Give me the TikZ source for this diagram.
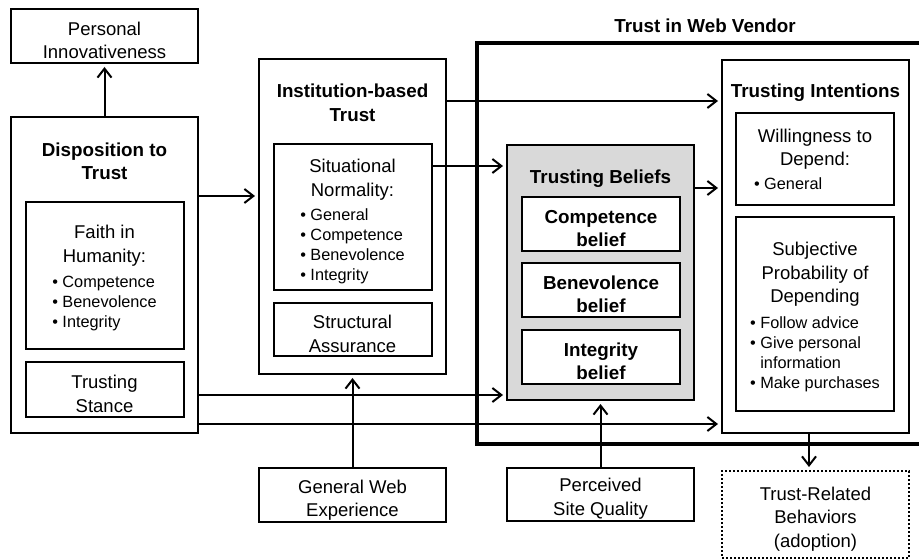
\documentclass[tikz,border=0pt]{standalone}
\usepackage{fontspec}
\setmainfont{Liberation Sans}
\usetikzlibrary{arrows.meta}

\definecolor{beliefgray}{HTML}{D9D9D9}
\newcommand{\blist}[1]{{\fontsize{8.15}{10}\selectfont\begin{tabular}[t]{@{}l@{}}#1\end{tabular}}}
\newcommand{\itm}{\textbullet\ }
\newcommand{\topgap}[1][11pt]{\rule{0pt}{#1}}

\tikzset{
  box/.style={draw, line width=1pt, align=center, inner sep=0pt, font=\fontsize{9.25}{11.75}\selectfont},
  outer/.style={box, minimum width=93.5pt},
  inner/.style={box, minimum width=79pt},
  boldbox/.style={inner, fill=white, font=\fontsize{9.4}{11.75}\selectfont\bfseries},
  title/.style={align=center, inner sep=0pt, font=\fontsize{9.4}{11.75}\selectfont\bfseries},
  arr/.style={line width=1pt, -{Straight Barb[length=4.5pt,width=7pt]}, shorten >=1.5pt},
}

\begin{document}
\begin{tikzpicture}[x=0.5pt, y=-0.5pt]
  \useasboundingbox (0,0) rectangle (919,560);

  % trust in web vendor frame
  \draw[line width=2.2pt] (919,43) -| (477,444) -- (919,444);
  \node[title] (vendor) at (705,26) {Trust in Web Vendor};

  \node[outer, minimum height=27pt] (pinn) at (104.5,36) {\topgap Personal\\Innovativeness};

  % disposition to trust
  \node[outer, minimum height=158pt] (disp) at (104.5,275) {};
  \node[title] (disptitle) at (104.5,161.5) {Disposition to\\Trust};
  \node[inner, minimum height=73.5pt] (faith) at (104.5,275.5) {\topgap Faith in\\Humanity:\\[1pt]\blist{\itm Competence\\\itm Benevolence\\\itm Integrity}};
  \node[inner, minimum height=27.5pt] (stance) at (104.5,389.5) {\topgap Trusting\\Stance};

  % institution-based trust
  \node[outer, minimum height=157.5pt] (inst) at (352.5,216.5) {};
  \node[title] (insttitle) at (352.5,103) {Institution-based\\Trust};
  \node[inner, minimum height=73pt] (sitn) at (352.5,217) {\topgap[13pt]Situational\\Normality:\\[0.5pt]\blist{\itm General\\\itm Competence\\\itm Benevolence\\\itm Integrity}};
  \node[inner, minimum height=26.5pt] (struct) at (352.5,329.5) {\topgap Structural\\Assurance};

  % trusting beliefs
  \node[outer, fill=beliefgray, minimum height=127.5pt] (beliefs) at (600.5,272.5) {};
  \node[title] (beliefstitle) at (600.5,179) {Trusting Beliefs};
  \node[boldbox, minimum height=27pt] (comp) at (601,224) {\topgap Competence\\belief};
  \node[boldbox, minimum height=27pt] (bene) at (601,290) {\topgap Benevolence\\belief};
  \node[boldbox, minimum height=27pt] (integ) at (601,357) {\topgap Integrity\\belief};

  % trusting intentions
  \node[outer, minimum height=186.5pt] (intent) at (815.5,246.5) {};
  \node[title] (intenttitle) at (815.5,92.5) {Trusting Intentions};
  \node[inner, minimum height=46pt] (will) at (815,159) {Willingness to\\Depend:\\\makebox[61pt][l]{\fontsize{8.15}{10}\selectfont\itm General}};
  \node[inner, minimum height=97pt] (subj) at (815,314) {\topgap Subjective\\Probability of\\Depending\\[1pt]\blist{\itm Follow advice\\\itm Give personal\\\phantom{\itm}information\\\itm Make purchases}};

  % antecedents and outcome
  \node[outer, minimum height=27pt] (gwe) at (352.5,495) {\topgap[12pt]General Web\\Experience};
  \node[outer, minimum height=26.5pt] (psq) at (600.5,494.5) {\topgap Perceived\\Site Quality};
  \node[outer, minimum height=43.5pt, dash pattern=on 1pt off 1pt] (trb) at (815.5,514.5) {\topgap Trust-Related\\Behaviors\\(adoption)};

  \draw[arr] (disp) -- (pinn);
  \draw[arr] (disp.east |- 0,196) -- (inst.west |- 0,196);
  \draw[arr] (inst.east |- 0,101) -- (intent.west |- 0,101);
  \draw[arr] (sitn.east |- 0,166) -- (beliefs.west |- 0,166);
  \draw[arr] (beliefs.east |- 0,188) -- (intent.west |- 0,188);
  \draw[arr] (disp.east |- 0,395) -- (beliefs.west |- 0,395);
  \draw[arr] (disp.east |- 0,424) -- (intent.west |- 0,424);
  \draw[arr] (gwe) -- (inst);
  \draw[arr] (psq) -- (beliefs);
  \draw[arr] (intent.south -| 809,0) -- (trb.north -| 809,0);
\end{tikzpicture}
\end{document}
